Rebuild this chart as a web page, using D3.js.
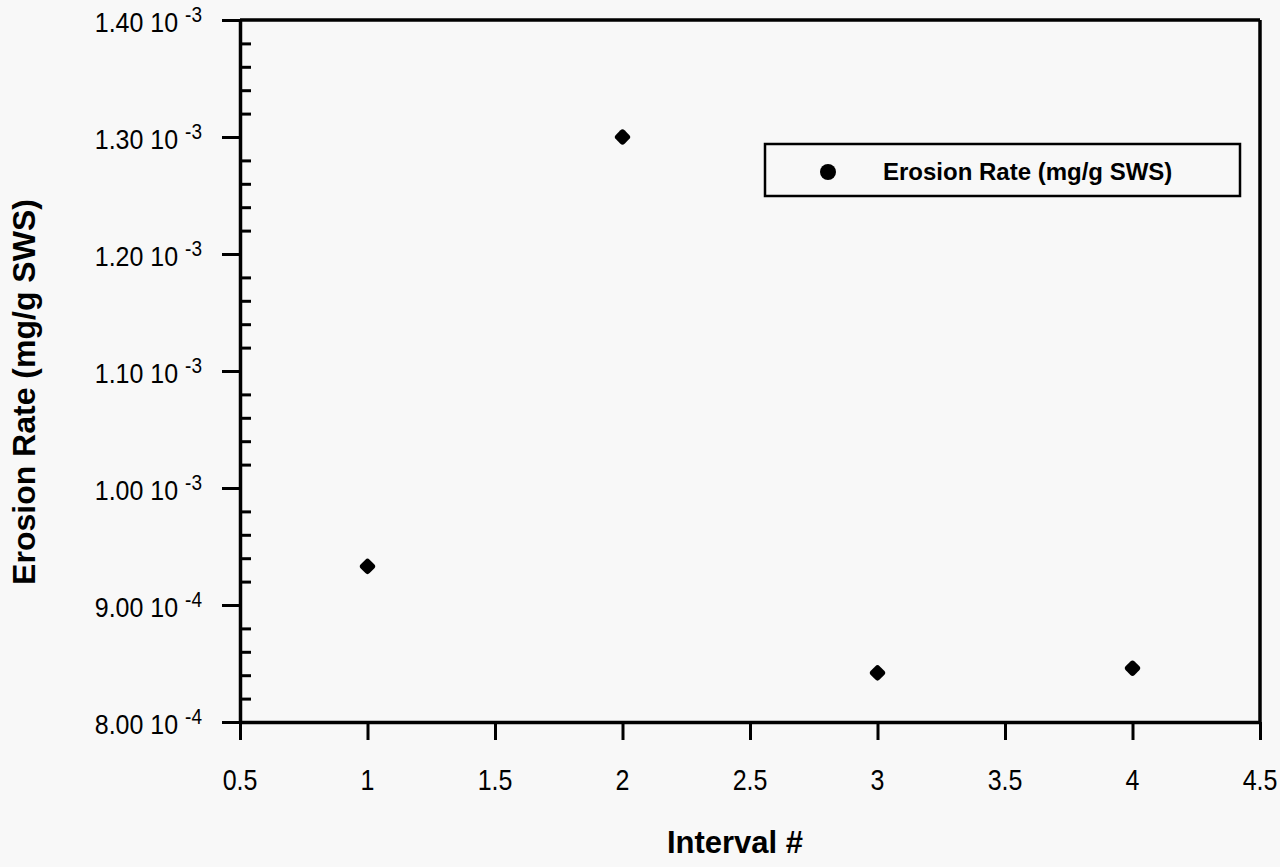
<!DOCTYPE html>
<html>
<head>
<meta charset="utf-8">
<script src="https://cdn.jsdelivr.net/npm/d3@7"></script>
<style>
  html, body { margin: 0; padding: 0; background: #f8f8f8; }
  svg { display: block; }
  text { font-family: "Liberation Sans", Arial, Helvetica, sans-serif; fill: #000; }
</style>
</head>
<body>
<svg id="chart" width="1280" height="867"></svg>
<script>
// ---- data ----
const intervals = [1, 2, 3, 4];
const erosionRate = [9.33e-4, 1.30e-3, 8.42e-4, 8.46e-4];
const seriesName = "Erosion Rate (mg/g SWS)";
const xTickValues = [0.5, 1, 1.5, 2, 2.5, 3, 3.5, 4, 4.5];
const xTickLabels = ["0.5", "1", "1.5", "2", "2.5", "3", "3.5", "4", "4.5"];
const yTickValues = [8.0e-4, 9.0e-4, 1.0e-3, 1.1e-3, 1.2e-3, 1.3e-3, 1.4e-3];
const yTickMantissa = ["8.00 10", "9.00 10", "1.00 10", "1.10 10", "1.20 10", "1.30 10", "1.40 10"];
const yTickExponent = ["-4", "-4", "-3", "-3", "-3", "-3", "-3"];
const xTitle = "Interval #";
const yTitle = "Erosion Rate (mg/g SWS)";

// ---- layout ----
const L = 240, R = 1260, T = 20, B = 722;
const svg = d3.select("#chart");
svg.append("rect").attr("width", 1280).attr("height", 867).attr("fill", "#f8f8f8");

const x = d3.scaleLinear().domain([0.5, 4.5]).range([L, R]);
const y = d3.scaleLinear().domain([8.0e-4, 1.4e-3]).range([B, T]);

// minor y ticks (inside)
const minorY = [];
for (let i = 0; i < yTickValues.length - 1; i++) {
  const a = yTickValues[i], b = yTickValues[i + 1];
  for (let k = 1; k < 5; k++) minorY.push(a + (b - a) * k / 5);
}
const gMinor = svg.append("g").attr("transform", `translate(${L},0)`)
  .call(d3.axisRight(y).tickValues(minorY).tickSize(11).tickFormat(""));
gMinor.select(".domain").remove();
gMinor.selectAll("line").attr("stroke", "#000").attr("stroke-width", 3);

// left axis (major ticks outward)
const gY = svg.append("g").attr("transform", `translate(${L},0)`)
  .call(d3.axisLeft(y).tickValues(yTickValues).tickSize(18).tickSizeOuter(0).tickFormat(""));
gY.select(".domain").attr("stroke", "#000").attr("stroke-width", 3.5);
gY.selectAll("line").attr("stroke", "#000").attr("stroke-width", 3);

// bottom axis
const gX = svg.append("g").attr("transform", `translate(0,${B})`)
  .call(d3.axisBottom(x).tickValues(xTickValues).tickSize(18).tickSizeOuter(0).tickFormat(""));
gX.select(".domain").attr("stroke", "#000").attr("stroke-width", 3.5);
gX.selectAll("line").attr("stroke", "#000").attr("stroke-width", 3);

// top and right border
svg.append("line").attr("x1", x(0.5)).attr("x2", x(4.5)).attr("y1", y(1.4e-3)).attr("y2", y(1.4e-3))
  .attr("stroke", "#000").attr("stroke-width", 3.5);
svg.append("line").attr("x1", x(4.5)).attr("x2", x(4.5)).attr("y1", y(1.4e-3)).attr("y2", y(8.0e-4))
  .attr("stroke", "#000").attr("stroke-width", 3.5);

// y tick labels
const yLab = svg.append("g");
yTickValues.forEach((v, i) => {
  const t = yLab.append("text")
    .attr("transform", `translate(202,${y(v) + 12}) scale(1,1.12)`)
    .attr("text-anchor", "end")
    .style("font-size", "25px");
  t.append("tspan").text(yTickMantissa[i] + " ");
  t.append("tspan").attr("dy", -9).style("font-size", "19px").text(yTickExponent[i]);
});

// x tick labels
svg.append("g").selectAll("text").data(xTickValues).join("text")
  .attr("transform", d => `translate(${x(d)},790) scale(1,1.15)`)
  .attr("text-anchor", "middle")
  .style("font-size", "25px")
  .text((d, i) => xTickLabels[i]);

// axis titles
svg.append("text").attr("x", 735).attr("y", 853).attr("text-anchor", "middle")
  .style("font-size", "31px").style("font-weight", "bold").text(xTitle);
svg.append("text").attr("transform", "translate(35,392) rotate(-90)").attr("text-anchor", "middle")
  .style("font-size", "32px").style("font-weight", "bold").text(yTitle);

// data points (rounded diamonds)
svg.append("g").selectAll("rect").data(intervals).join("rect")
  .attr("x", -6.25).attr("y", -6.25).attr("width", 12.5).attr("height", 12.5)
  .attr("rx", 3).attr("ry", 3)
  .attr("transform", (d, i) => `translate(${x(d)},${y(erosionRate[i])}) rotate(45)`)
  .attr("fill", "#000");

// legend
const lg = svg.append("g");
lg.append("rect").attr("x", 765).attr("y", 144).attr("width", 475).attr("height", 52)
  .attr("fill", "none").attr("stroke", "#000").attr("stroke-width", 2.5);
lg.append("circle").attr("cx", 828).attr("cy", 172).attr("r", 8).attr("fill", "#000");
lg.append("text").attr("x", 883).attr("y", 180)
  .style("font-size", "24px").style("font-weight", "bold").text(seriesName);
</script>
</body>
</html>
